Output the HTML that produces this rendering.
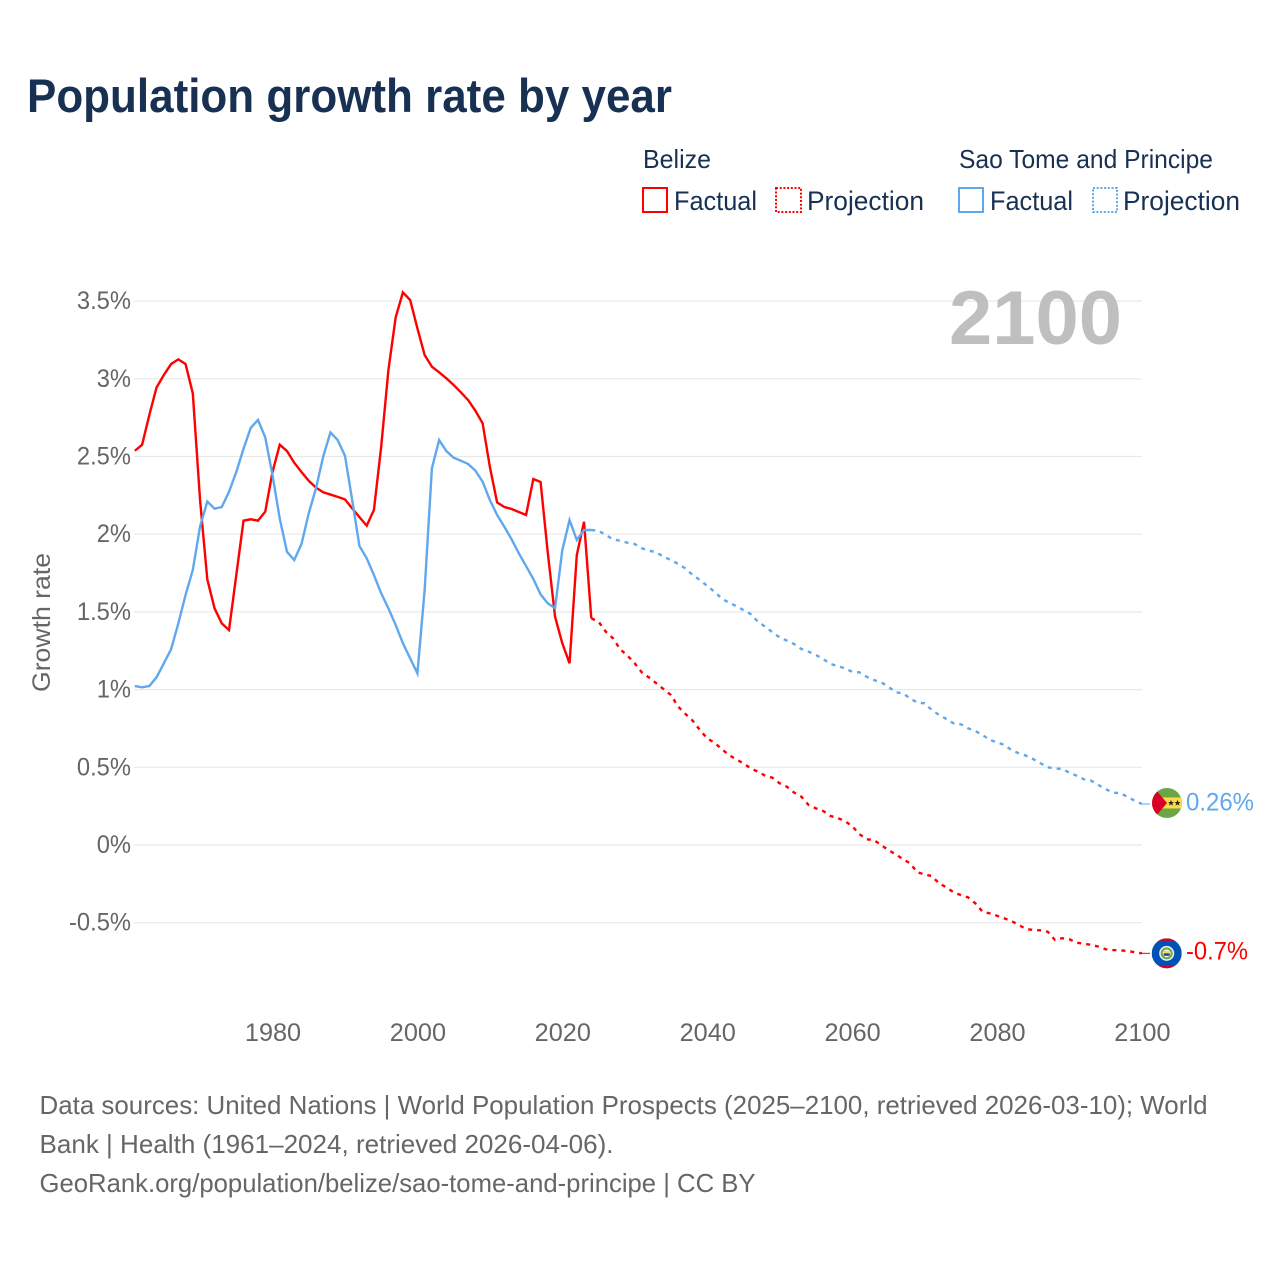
<!DOCTYPE html>
<html lang="en">
<head>
<meta charset="utf-8">
<title>Population growth rate by year</title>
<style>
html,body{margin:0;padding:0;background:#fff;width:1280px;height:1280px;overflow:hidden}
svg{display:block}
text{font-family:"Liberation Sans",sans-serif}
</style>
</head>
<body>
<svg id="chart" xmlns="http://www.w3.org/2000/svg" width="1280" height="1280" viewBox="0 0 1280 1280">
  <defs>
    <clipPath id="flag-clip"><circle cx="0" cy="0" r="15"/></clipPath>
  </defs>
  <rect x="0" y="0" width="1280" height="1280" fill="#ffffff"/>
  <text x="27" y="112" font-size="47" font-weight="700" fill="#183153" textLength="645" lengthAdjust="spacingAndGlyphs">Population growth rate by year</text>

  <g>
    <text x="643" y="168" font-size="26" fill="#183153" textLength="68" lengthAdjust="spacingAndGlyphs">Belize</text>
    <text x="959" y="168" font-size="26" fill="#183153" textLength="254" lengthAdjust="spacingAndGlyphs">Sao Tome and Principe</text>
    <g>
      <rect x="643" y="188" width="24" height="24" fill="none" stroke="#ff0000" stroke-width="2"/>
      <text x="674" y="210" font-size="27" fill="#183153" textLength="83" lengthAdjust="spacingAndGlyphs">Factual</text>
    </g>
    <g>
      <rect x="776" y="188" width="25" height="24" fill="none" stroke="#ff0000" stroke-width="2" stroke-dasharray="2 1.7"/>
      <text x="807" y="210" font-size="27" fill="#183153" textLength="117" lengthAdjust="spacingAndGlyphs">Projection</text>
    </g>
    <g>
      <rect x="959" y="188" width="24" height="24" fill="none" stroke="#60a8ee" stroke-width="2"/>
      <text x="990" y="210" font-size="27" fill="#183153" textLength="83" lengthAdjust="spacingAndGlyphs">Factual</text>
    </g>
    <g>
      <rect x="1093" y="188" width="24" height="24" fill="none" stroke="#60a8ee" stroke-width="2" stroke-dasharray="2 1.7"/>
      <text x="1123" y="210" font-size="27" fill="#183153" textLength="117" lengthAdjust="spacingAndGlyphs">Projection</text>
    </g>
  </g>

  <g id="grid"></g>
  <g id="y-labels"></g>
  <g id="x-labels"></g>
  <text transform="translate(50,622.5) rotate(-90)" text-anchor="middle" font-size="25" fill="#666666" textLength="139" lengthAdjust="spacingAndGlyphs">Growth rate</text>
  <text x="949" y="344" font-size="76" font-weight="700" fill="#bfbfbf" textLength="173" lengthAdjust="spacingAndGlyphs">2100</text>

  <g id="series"></g>

  <g id="flag-stp">
    <g clip-path="url(#flag-clip)">
      <rect x="-15" y="-15" width="30" height="30" fill="#6da544"/>
      <rect x="-15" y="-5.5" width="30" height="11" fill="#ffda44"/>
      <polygon points="-15,-15 -11,-13 0,0 -11,13 -15,15" fill="#d80027"/>
      <polygon points="4,-3.2 4.8,-1 7,-1 5.3,0.4 6,2.6 4,1.3 2,2.6 2.7,0.4 1,-1 3.2,-1" fill="#222222"/>
      <polygon points="10.5,-3.2 11.3,-1 13.5,-1 11.8,0.4 12.5,2.6 10.5,1.3 8.5,2.6 9.2,0.4 7.5,-1 9.7,-1" fill="#222222"/>
    </g>
  </g>
  <g id="flag-blz">
    <g clip-path="url(#flag-clip)">
      <rect x="-15" y="-15" width="30" height="30" fill="#0052b4"/>
      <rect x="-15" y="-15" width="30" height="2.5" fill="#d80027"/>
      <rect x="-15" y="12.5" width="30" height="2.5" fill="#d80027"/>
      <circle r="7.5" fill="#f0f0f0"/>
      <circle r="6" fill="#6da544"/>
      <circle r="4" fill="#f0f0f0"/>
      <rect x="-3" y="-2.5" width="6" height="2.5" fill="#ffda44"/>
      <rect x="-3" y="0" width="6" height="2.5" fill="#0052b4"/>
    </g>
  </g>
  <text id="label-stp" x="1186" font-size="25" fill="#60a8ee" textLength="68" lengthAdjust="spacingAndGlyphs">0.26%</text>
  <text id="label-blz" x="1186" font-size="25" fill="#ff0000" textLength="62" lengthAdjust="spacingAndGlyphs">-0.7%</text>

  <g font-size="26" fill="#666666">
    <text x="39.5" y="1114" textLength="1168" lengthAdjust="spacingAndGlyphs">Data sources: United Nations | World Population Prospects (2025–2100, retrieved 2026-03-10); World</text>
    <text x="39.5" y="1153" textLength="574" lengthAdjust="spacingAndGlyphs">Bank | Health (1961–2024, retrieved 2026-04-06).</text>
    <text x="39.5" y="1192" textLength="716" lengthAdjust="spacingAndGlyphs">GeoRank.org/population/belize/sao-tome-and-principe | CC BY</text>
  </g>
</svg>
<script>
const factualStartYear = 1961;
const projectionStartYear = 2024;
const yTicks = [3.5, 3, 2.5, 2, 1.5, 1, 0.5, 0, -0.5];
const yTickLabels = ["3.5%", "3%", "2.5%", "2%", "1.5%", "1%", "0.5%", "0%", "-0.5%"];
const xTicks = [1980, 2000, 2020, 2040, 2060, 2080, 2100];
const xTickLabels = ["1980", "2000", "2020", "2040", "2060", "2080", "2100"];
const belizeFactual = [2.537,2.575,2.767,2.945,3.024,3.095,3.125,3.095,2.906,2.22,1.71,1.523,1.426,1.383,1.737,2.087,2.096,2.087,2.145,2.40,2.576,2.535,2.46,2.40,2.344,2.30,2.27,2.255,2.24,2.224,2.166,2.11,2.055,2.156,2.563,3.057,3.395,3.556,3.507,3.325,3.153,3.078,3.042,3.003,2.96,2.913,2.863,2.795,2.714,2.434,2.205,2.175,2.162,2.143,2.124,2.355,2.336,1.879,1.469,1.298,1.169,1.866,2.08,1.459];
const belizeProjection = [1.459,1.437,1.373,1.33,1.259,1.218,1.169,1.109,1.077,1.04,1.002,0.965,0.89,0.843,0.80,0.74,0.686,0.658,0.618,0.579,0.551,0.526,0.493,0.472,0.446,0.433,0.397,0.375,0.337,0.311,0.257,0.236,0.219,0.187,0.174,0.154,0.122,0.07,0.037,0.032,0,-0.032,-0.06,-0.09,-0.118,-0.176,-0.189,-0.2,-0.247,-0.272,-0.304,-0.322,-0.337,-0.375,-0.429,-0.44,-0.455,-0.472,-0.489,-0.515,-0.54,-0.547,-0.549,-0.558,-0.611,-0.6,-0.607,-0.629,-0.635,-0.643,-0.654,-0.671,-0.676,-0.678,-0.682,-0.69,-0.697];
const stpFactual = [1.023,1.015,1.023,1.079,1.169,1.259,1.426,1.609,1.77,2.05,2.21,2.164,2.175,2.273,2.40,2.55,2.685,2.735,2.623,2.38,2.10,1.887,1.834,1.937,2.134,2.295,2.50,2.655,2.606,2.505,2.22,1.924,1.845,1.737,1.62,1.523,1.416,1.298,1.201,1.105,1.64,2.424,2.606,2.535,2.492,2.473,2.452,2.409,2.338,2.22,2.124,2.048,1.967,1.877,1.795,1.712,1.613,1.555,1.523,1.898,2.091,1.963,2.027,2.027];
const stpProjection = [2.027,2.022,1.995,1.967,1.958,1.945,1.937,1.909,1.894,1.883,1.855,1.834,1.808,1.78,1.737,1.705,1.667,1.63,1.587,1.559,1.538,1.512,1.486,1.437,1.405,1.369,1.336,1.315,1.293,1.261,1.244,1.223,1.197,1.165,1.152,1.137,1.115,1.111,1.083,1.062,1.047,1.019,0.983,0.976,0.944,0.916,0.912,0.869,0.837,0.811,0.783,0.777,0.751,0.734,0.708,0.676,0.661,0.644,0.611,0.59,0.575,0.553,0.526,0.5,0.493,0.489,0.465,0.446,0.423,0.414,0.386,0.36,0.337,0.333,0.311,0.285,0.264];

const NS = 'http://www.w3.org/2000/svg';
function xScale(year) { return 272.5 + (year - 1980) * 7.245; }
function yScale(v) { return 845 - v * 155.4; }
function pathFor(values, startYear) {
  return values.map(function (v, i) {
    return (i ? 'L' : 'M') + xScale(startYear + i).toFixed(2) + ' ' + yScale(v).toFixed(2);
  }).join(' ');
}
function condense(el, ratio) {
  el.setAttribute('textLength', (el.getComputedTextLength() * ratio).toFixed(1));
  el.setAttribute('lengthAdjust', 'spacingAndGlyphs');
}

const grid = document.getElementById('grid');
const yLabels = document.getElementById('y-labels');
yTicks.forEach(function (t, i) {
  const line = document.createElementNS(NS, 'line');
  
  
  line.setAttribute('x1', '134');
  line.setAttribute('x2', '1142');
  line.setAttribute('y1', yScale(t));
  line.setAttribute('y2', yScale(t));
  line.setAttribute('stroke', '#e8e8e8');
  line.setAttribute('stroke-width', '1.2');
  grid.appendChild(line);
  const label = document.createElementNS(NS, 'text');
  
  
  label.setAttribute('x', '131');
  label.setAttribute('y', yScale(t) + 8);
  label.setAttribute('text-anchor', 'end');
  label.setAttribute('font-size', '25');
  label.setAttribute('fill', '#666666');
  label.textContent = yTickLabels[i];
  yLabels.appendChild(label);
  condense(label, 0.95);
});

const xLabels = document.getElementById('x-labels');
xTicks.forEach(function (t, i) {
  const label = document.createElementNS(NS, 'text');
  
  
  label.setAttribute('x', xScale(t) + 0.5);
  label.setAttribute('y', '1041');
  label.setAttribute('text-anchor', 'middle');
  label.setAttribute('font-size', '25');
  label.setAttribute('fill', '#666666');
  label.textContent = xTickLabels[i];
  xLabels.appendChild(label);
  condense(label, 1.01);
});

const seriesGroup = document.getElementById('series');
function addLine(name, values, startYear, color, dashed) {
  const p = document.createElementNS(NS, 'path');
  
  
  p.setAttribute('d', pathFor(values, startYear));
  p.setAttribute('fill', 'none');
  p.setAttribute('stroke', color);
  p.setAttribute('stroke-width', '2.4');
  if (dashed) p.setAttribute('stroke-dasharray', '4 5');
  seriesGroup.appendChild(p);
}
addLine('belize-projection-line', belizeProjection, projectionStartYear, '#ff0000', true);
addLine('sao-tome-projection-line', stpProjection, projectionStartYear, '#60a8ee', true);
addLine('belize-factual-line', belizeFactual, factualStartYear, '#ff0000', false);
addLine('sao-tome-factual-line', stpFactual, factualStartYear, '#60a8ee', false);

function addConnector(name, v, color) {
  const c = document.createElementNS(NS, 'line');
  
  
  c.setAttribute('x1', '1141');
  c.setAttribute('x2', '1150');
  c.setAttribute('y1', yScale(v));
  c.setAttribute('y2', yScale(v));
  c.setAttribute('stroke', color);
  c.setAttribute('stroke-width', '1');
  seriesGroup.appendChild(c);
}
const stpEnd = stpProjection[stpProjection.length - 1];
const blzEnd = belizeProjection[belizeProjection.length - 1];
addConnector('sao-tome-end-connector', stpEnd, '#60a8ee');
addConnector('belize-end-connector', blzEnd, '#ff0000');

document.getElementById('flag-stp').setAttribute('transform', 'translate(1167,' + (yScale(stpEnd) - 1) + ')');
document.getElementById('flag-blz').setAttribute('transform', 'translate(1166.7,' + yScale(blzEnd) + ')');
document.getElementById('label-stp').setAttribute('y', yScale(stpEnd) + 6.5);
document.getElementById('label-blz').setAttribute('y', yScale(blzEnd) + 6);
</script>
</body>
</html>
